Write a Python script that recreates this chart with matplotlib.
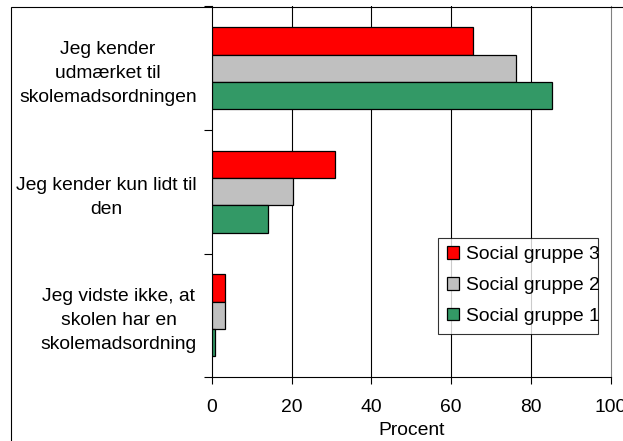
import numpy as np
import matplotlib
matplotlib.use('Agg')
import matplotlib.pyplot as plt
from matplotlib.patches import Rectangle

plt.rcParams['font.family'] = ['Liberation Sans', 'DejaVu Sans']

# Data
categories = [
    'Jeg kender\nudmærket til\nskolemadsordningen',
    'Jeg kender kun lidt til\nden',
    'Jeg vidste ikke, at\nskolen har en\nskolemadsordning',
]
series_names = ['Social gruppe 3', 'Social gruppe 2', 'Social gruppe 1']
gruppe3 = [65.4, 30.9, 3.3]
gruppe2 = [76.2, 20.4, 3.3]
gruppe1 = [85.2, 14.1, 0.7]
colors = ['#FF0000', '#C0C0C0', '#339966']
x_ticks = [0, 20, 40, 60, 80, 100]

FS = 13.9

fig = plt.figure(figsize=(6.23, 4.41), dpi=100)
ax = fig.add_axes([0.3403, 0.1451, 0.6400, 0.8402])

# frame round the whole chart (only left/top visible in reference)
fig.patches.append(Rectangle((11 / 623, -0.1), 1.2, 1 - 7 / 441 + 0.1,
                             transform=fig.transFigure, fill=False,
                             edgecolor='black', linewidth=0.8, zorder=0))

n = len(categories)
centers = np.arange(n)[::-1] + 0.5  # top category at top
bar_h = 0.22
series = [gruppe3, gruppe2, gruppe1]
for i, (vals, name, col) in enumerate(zip(series, series_names, colors)):
    offs = (1 - i) * bar_h
    ax.barh(centers + offs, vals, height=bar_h, color=col,
            edgecolor='black', linewidth=0.9, label=name, zorder=3)

ax.set_xlim(0, 100)
ax.set_ylim(0, n)
ax.set_xticks(x_ticks)
ax.set_xticklabels([str(t) for t in x_ticks], fontsize=FS)
ax.tick_params(axis='x', direction='out', length=5, width=0.8, pad=11)
ax.set_xlabel('Procent', fontsize=FS, labelpad=4)

# category boundaries as major ticks, labels at centres
ax.set_yticks(np.arange(n + 1))
ax.set_yticklabels([''] * (n + 1))
ax.tick_params(axis='y', which='major', direction='out', length=6, width=0.8)
ax.set_yticks(centers, minor=True)
ax.set_yticklabels(categories, minor=True, fontsize=FS,
                   multialignment='center', linespacing=1.55)
ax.tick_params(axis='y', which='minor', length=0, pad=11)

for x in x_ticks[1:-1]:
    ax.axvline(x, color='black', linewidth=0.8, zorder=1)

ax.spines['top'].set_visible(False)
ax.spines['right'].set_color('#808080')
ax.spines['left'].set_linewidth(0.8)
ax.spines['bottom'].set_linewidth(0.8)

leg = ax.legend(loc='lower left', bbox_to_anchor=(0.5675, 0.1165, 0.40, 0.32),
                mode='expand', fontsize=FS, frameon=True, fancybox=False,
                edgecolor='black', handlelength=0.6, handleheight=0.6,
                handletextpad=0.4, labelspacing=0.72, borderpad=0.45,
                borderaxespad=0)
leg.get_frame().set_linewidth(0.8)
leg.set_zorder(5)

fig.savefig('out.png', dpi=100)
